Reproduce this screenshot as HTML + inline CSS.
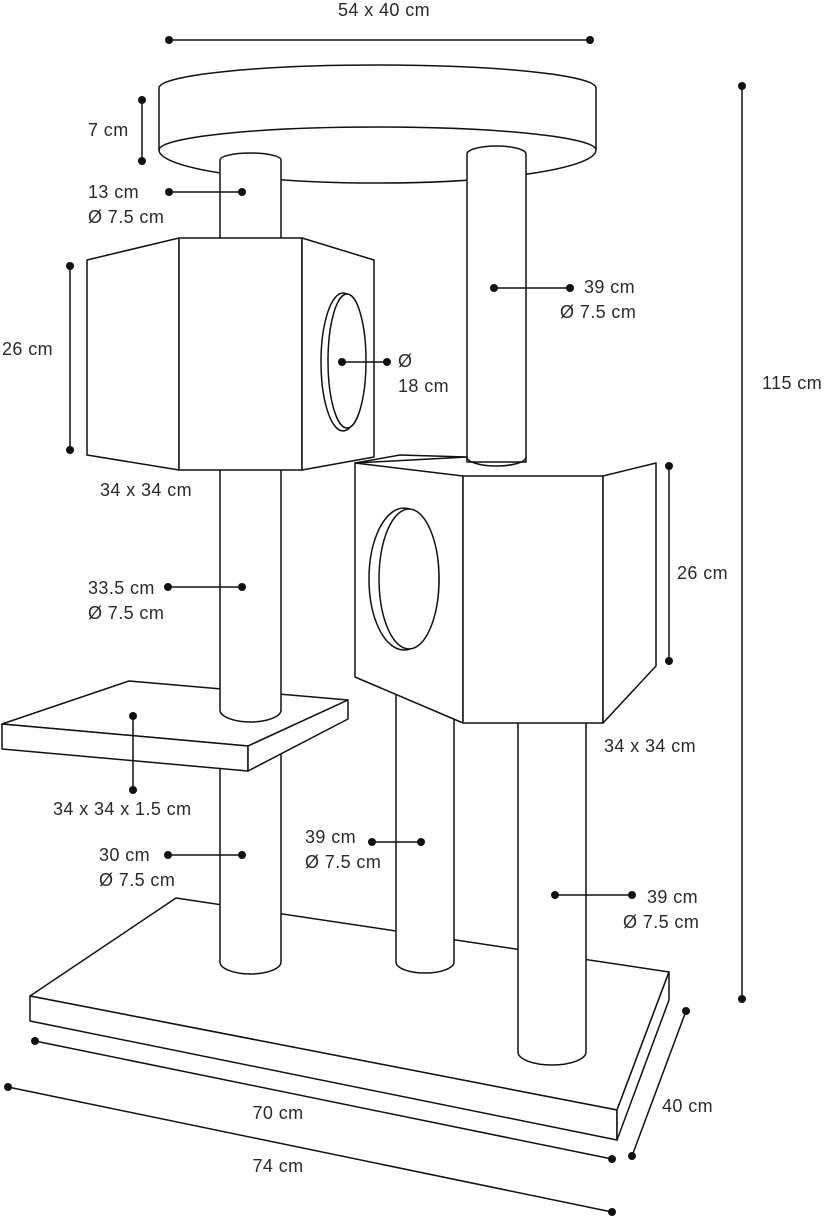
<!DOCTYPE html>
<html><head><meta charset="utf-8"><style>
html,body{margin:0;padding:0;background:#fff}
svg{display:block}
text{font-family:"Liberation Sans",sans-serif;font-size:18px;letter-spacing:0.4px;fill:#2a2a2a}
</style></head><body>
<svg width="827" height="1220" viewBox="0 0 827 1220" xmlns="http://www.w3.org/2000/svg">
<g fill="#fff" stroke="#111" stroke-width="1.5" stroke-linejoin="round">
<!-- base -->
<polygon points="176,898 669,972 617,1110 30,996"/>
<polygon points="30,996 617,1110 617,1140 30,1021"/>
<polygon points="617,1110 669,972 669,1000 617,1140"/>
<!-- lower posts -->
<path d="M220,740 L220,962 A30.5,12 0 0 0 281,962 L281,740 Z"/>
<path d="M396,690 L396,962 A29,11 0 0 0 454,962 L454,690 Z"/>
<path d="M518,700 L518,1052 A34,13 0 0 0 586,1052 L586,700 Z"/>
<!-- platform -->
<polygon points="129,681 348,700 248,746 2,724"/>
<polygon points="2,724 248,746 248,771 2,749"/>
<polygon points="248,746 348,700 348,719 248,771"/>
<!-- left middle post -->
<path d="M220,465 L220,710 A30.5,12 0 0 0 281,710 L281,465 Z"/>
<!-- top disk -->
<path d="M159,88 A218,23 0 0 1 596,88 L596,150 A218,33 0 0 1 159,150 Z"/>
<path d="M159,150 A218,23 0 0 1 596,150" fill="none"/>
<!-- left top post -->
<path d="M220,240 L220,160 A30.5,7 0 0 1 281,160 L281,240 Z"/>
<!-- upper left box -->
<polygon points="87,260 179,238 179,470 87,455"/>
<polygon points="179,238 302,238 302,470 179,470"/>
<polygon points="302,238 374,260 374,457 302,470"/>
<ellipse cx="343" cy="362" rx="22" ry="69"/>
<ellipse cx="347" cy="361" rx="19" ry="67"/>
<!-- right tall post -->
<path d="M467,462 L467,154 A29.5,8 0 0 1 526,154 L526,462 Z"/>
<!-- lower right box -->
<polygon points="355,463 400,455 467,457 A29.5,8 0 0 0 526,459 L656,463 603,476 463,476"/>
<path d="M467,457 A29.5,9 0 0 0 526,457" fill="none"/>
<polygon points="355,463 463,476 463,723 355,677"/>
<polygon points="463,476 603,476 603,723 463,723"/>
<polygon points="603,476 656,463 656,666 603,723"/>
<ellipse cx="404" cy="579" rx="35" ry="71"/>
<ellipse cx="409" cy="579" rx="30" ry="70"/>
</g>
<!-- dimension lines -->
<g stroke="#111" stroke-width="1.5" fill="none">
<line x1="169" y1="40" x2="590" y2="40"/>
<line x1="142" y1="100" x2="142" y2="161"/>
<line x1="169" y1="192" x2="242" y2="192"/>
<line x1="70" y1="266" x2="70" y2="450"/>
<line x1="342" y1="362" x2="387" y2="362"/>
<line x1="494" y1="288" x2="570" y2="288"/>
<line x1="742" y1="86" x2="742" y2="999"/>
<line x1="669" y1="466" x2="669" y2="661"/>
<line x1="168" y1="587" x2="242" y2="587"/>
<line x1="133" y1="716" x2="133" y2="790"/>
<line x1="168" y1="855" x2="242" y2="855"/>
<line x1="372" y1="842" x2="421" y2="842"/>
<line x1="555" y1="895" x2="632" y2="895"/>
<line x1="35" y1="1041" x2="612" y2="1159"/>
<line x1="8" y1="1087" x2="612" y2="1212"/>
<line x1="686" y1="1011" x2="632" y2="1156"/>
</g>
<g fill="#111">
<circle cx="169" cy="40" r="4"/><circle cx="590" cy="40" r="4"/>
<circle cx="142" cy="100" r="4"/><circle cx="142" cy="161" r="4"/>
<circle cx="169" cy="192" r="4"/><circle cx="242" cy="192" r="4"/>
<circle cx="70" cy="266" r="4"/><circle cx="70" cy="450" r="4"/>
<circle cx="342" cy="362" r="4"/><circle cx="387" cy="362" r="4"/>
<circle cx="494" cy="288" r="4"/><circle cx="570" cy="288" r="4"/>
<circle cx="742" cy="86" r="4"/><circle cx="742" cy="999" r="4"/>
<circle cx="669" cy="466" r="4"/><circle cx="669" cy="661" r="4"/>
<circle cx="168" cy="587" r="4"/><circle cx="242" cy="587" r="4"/>
<circle cx="133" cy="716" r="4"/><circle cx="133" cy="790" r="4"/>
<circle cx="168" cy="855" r="4"/><circle cx="242" cy="855" r="4"/>
<circle cx="372" cy="842" r="4"/><circle cx="421" cy="842" r="4"/>
<circle cx="555" cy="895" r="4"/><circle cx="632" cy="895" r="4"/>
<circle cx="35" cy="1041" r="4"/><circle cx="612" cy="1159" r="4"/>
<circle cx="8" cy="1087" r="4"/><circle cx="612" cy="1212" r="4"/>
<circle cx="686" cy="1011" r="4"/><circle cx="632" cy="1156" r="4"/>
</g>
<g>
<text x="384" y="16" text-anchor="middle">54 x 40 cm</text>
<text x="88" y="136">7 cm</text>
<text x="88" y="198">13 cm</text>
<text x="88" y="223">Ø 7.5 cm</text>
<text x="2" y="355">26 cm</text>
<text x="398" y="367">Ø</text>
<text x="398" y="392">18 cm</text>
<text x="584" y="293">39 cm</text>
<text x="560" y="318">Ø 7.5 cm</text>
<text x="100" y="496">34 x 34 cm</text>
<text x="762" y="389">115 cm</text>
<text x="677" y="579">26 cm</text>
<text x="88" y="594">33.5 cm</text>
<text x="88" y="619">Ø 7.5 cm</text>
<text x="604" y="752">34 x 34 cm</text>
<text x="53" y="815">34 x 34 x 1.5 cm</text>
<text x="99" y="861">30 cm</text>
<text x="99" y="886">Ø 7.5 cm</text>
<text x="305" y="843">39 cm</text>
<text x="305" y="868">Ø 7.5 cm</text>
<text x="647" y="903">39 cm</text>
<text x="623" y="928">Ø 7.5 cm</text>
<text x="278" y="1119" text-anchor="middle">70 cm</text>
<text x="278" y="1172" text-anchor="middle">74 cm</text>
<text x="662" y="1112">40 cm</text>
</g>
</svg>
</body></html>
